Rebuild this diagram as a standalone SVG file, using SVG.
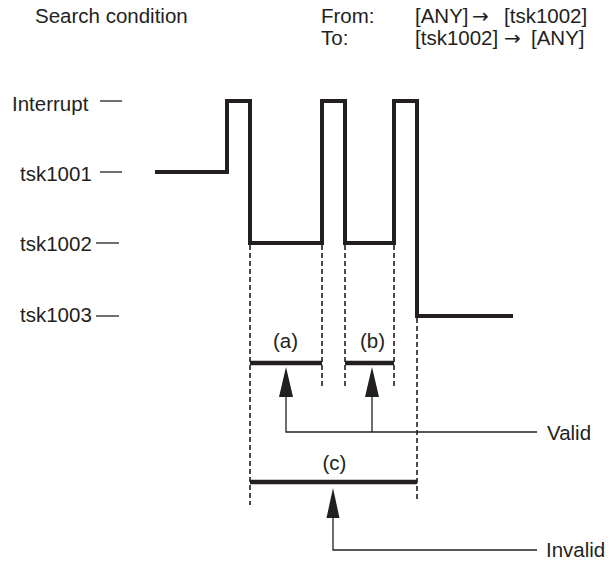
<svg xmlns="http://www.w3.org/2000/svg" width="610" height="563" viewBox="0 0 610 563">
<style>
text{font-family:"Liberation Sans",Arial,sans-serif;font-size:20.5px;fill:#231f20}
.ar{font-family:"DejaVu Sans",sans-serif;font-size:20px}
.w{fill:none;stroke:#231f20;stroke-width:4;stroke-linejoin:miter}
.bar{stroke:#231f20;stroke-width:4.5}
.d{stroke:#231f20;stroke-width:1.6;stroke-dasharray:5 3}
.t{stroke:#231f20;stroke-width:1.3}
.c{fill:none;stroke:#231f20;stroke-width:1.3}
.ah{fill:#231f20}
.mid{text-anchor:middle}
</style>
<rect width="610" height="563" fill="#fff"/>
<g id="header">
<text x="35" y="23">Search condition</text>
<text x="321" y="23">From:</text>
<text y="23"><tspan x="415">[ANY]</tspan><tspan class="ar" x="472">→</tspan><tspan x="504">[tsk1002]</tspan></text>
<text x="321" y="45">To:</text>
<text y="45"><tspan x="415">[tsk1002]</tspan><tspan class="ar" x="504">→</tspan><tspan x="531">[ANY]</tspan></text>
</g>
<g id="level-interrupt"><text x="12" y="111">Interrupt</text><line class="t" x1="100" y1="101" x2="122" y2="101"/></g>
<g id="level-tsk1001"><text x="20" y="181">tsk1001</text><line class="t" x1="100" y1="172" x2="122" y2="172"/></g>
<g id="level-tsk1002"><text x="20" y="251">tsk1002</text><line class="t" x1="96" y1="243" x2="119" y2="243"/></g>
<g id="level-tsk1003"><text x="20" y="322">tsk1003</text><line class="t" x1="96" y1="316" x2="119" y2="316"/></g>
<g id="waveform"><path class="w" d="M155,172 H227 V101 H250 V243 H322 V101 H345 V243 H394 V101 H417 V316 H513"/></g>
<g id="guides">
<line class="d" x1="250" y1="245" x2="250" y2="505"/>
<line class="d" x1="322" y1="245" x2="322" y2="387"/>
<line class="d" x1="345" y1="245" x2="345" y2="387"/>
<line class="d" x1="394" y1="245" x2="394" y2="387"/>
<line class="d" x1="417" y1="318" x2="417" y2="500"/>
</g>
<g id="interval-a"><line class="bar" x1="250" y1="363" x2="322" y2="363"/><text class="mid" x="285.5" y="348">(a)</text></g>
<g id="interval-b"><line class="bar" x1="345" y1="363" x2="394" y2="363"/><text class="mid" x="372.5" y="348">(b)</text></g>
<g id="interval-c"><line class="bar" x1="250" y1="482" x2="417" y2="482"/><text class="mid" x="334.5" y="470">(c)</text></g>
<g id="label-valid"><text x="547" y="440">Valid</text></g>
<g id="label-invalid"><text x="546" y="557">Invalid</text></g>
<g id="connectors">
<path class="c" d="M286,396 V432 H537 M372,396 V432"/>
<polygon class="ah" points="286,367 279,397 293,397"/>
<polygon class="ah" points="372,367 365,397 379,397"/>
<path class="c" d="M333,517 V550 H537"/>
<polygon class="ah" points="333,488 326.5,518 339.5,518"/>
</g>
</svg>
